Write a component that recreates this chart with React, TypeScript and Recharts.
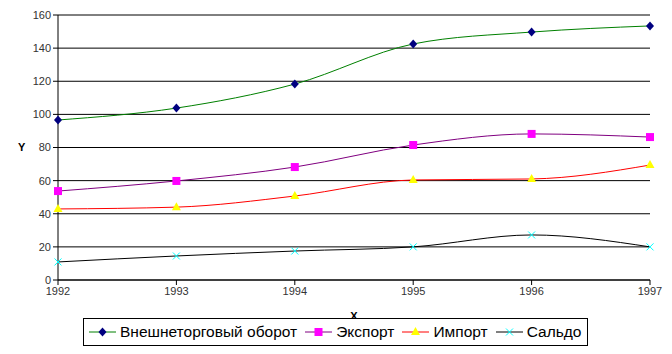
import React from "react";
import { CartesianGrid, Label, Line, LineChart, XAxis, YAxis } from "recharts";

const years = ["1992", "1993", "1994", "1995", "1996", "1997"];
const turnover = [96.6, 103.8, 118.3, 142.5, 149.7, 153.4];
const exports = [53.7, 59.8, 68.2, 81.5, 88.2, 86.3];
const imports = [42.9, 44.0, 50.7, 60.4, 61.0, 69.4];
const balance = [10.9, 14.5, 17.5, 20.0, 27.2, 20.0];
const yTicks = [0, 20, 40, 60, 80, 100, 120, 140, 160];

const data = years.map((year, i) => ({
  year,
  turnover: turnover[i],
  exports: exports[i],
  imports: imports[i],
  balance: balance[i]
}));

const font = "'Liberation Sans', Arial, sans-serif";

type Shape = "diamond" | "square" | "triangle" | "cross";

function Marker({ shape, x, y }: { shape: Shape; x: number; y: number }) {
  if (shape === "diamond")
    return <polygon points={`${x},${y - 4.5} ${x + 4},${y} ${x},${y + 4.5} ${x - 4},${y}`} fill="#000080" />;
  if (shape === "square") return <rect x={x - 4} y={y - 4} width={8} height={8} fill="#FF00FF" />;
  if (shape === "triangle")
    return <polygon points={`${x},${y - 5} ${x + 4.5},${y + 3} ${x - 4.5},${y + 3}`} fill="#FFFF00" />;
  return (
    <g stroke="#00FFFF" strokeWidth={1}>
      <line x1={x - 3.5} y1={y - 3.5} x2={x + 3.5} y2={y + 3.5} />
      <line x1={x - 3.5} y1={y + 3.5} x2={x + 3.5} y2={y - 3.5} />
    </g>
  );
}

const series = [
  { key: "turnover", name: "Внешнеторговый оборот", color: "#008000", shape: "diamond" as Shape },
  { key: "exports", name: "Экспорт", color: "#800080", shape: "square" as Shape },
  { key: "imports", name: "Импорт", color: "#FF0000", shape: "triangle" as Shape },
  { key: "balance", name: "Сальдо", color: "#000000", shape: "cross" as Shape }
];

function LegendBox() {
  return (
    <div
      style={{
        position: "absolute",
        left: 83,
        top: 318,
        width: 505,
        height: 28,
        border: "1px solid #000",
        background: "#fff",
        display: "flex",
        alignItems: "center",
        paddingLeft: 5,
        fontFamily: font,
        fontSize: 15.5,
        color: "#000",
        boxSizing: "border-box",
        whiteSpace: "nowrap"
      }}
    >
      {series.map((s) => (
        <div key={s.key} style={{ display: "flex", alignItems: "center", marginRight: 8 }}>
          <svg width={27} height={12} style={{ marginRight: 4 }}>
            <line x1={0} y1={6} x2={27} y2={6} stroke={s.color} strokeWidth={1} />
            <Marker shape={s.shape} x={13.5} y={6} />
          </svg>
          <span>{s.name}</span>
        </div>
      ))}
    </div>
  );
}

export default function App() {
  return (
    <div style={{ position: "absolute", left: 0, top: 0, width: 672, height: 354, background: "#fff" }}>
      <LineChart width={672} height={354} data={data} margin={{ top: 15, right: 22, left: 0, bottom: 54 }}>
        <CartesianGrid vertical={false} stroke="#000" strokeOpacity={1} />
        <XAxis
          dataKey="year"
          height={20}
          stroke="#000"
          tickSize={5}
          tick={{ fill: "#333", fontSize: 11, fontFamily: font }}
          interval={0}
        >
          <Label value="X" position="bottom" offset={12} style={{ fontFamily: font, fontSize: 11, fontWeight: "bold", fill: "#000" }} />
        </XAxis>
        <YAxis
          width={58}
          domain={[0, 160]}
          ticks={yTicks}
          stroke="#000"
          tickSize={5}
          tick={{ fill: "#333", fontSize: 11, fontFamily: font }}
        >
          <Label value="Y" position="insideLeft" offset={18} style={{ fontFamily: font, fontSize: 11, fontWeight: "bold", fill: "#000" }} />
        </YAxis>
        {series.map((s) => (
          <Line
            key={s.key}
            type="monotone"
            dataKey={s.key}
            name={s.name}
            stroke={s.color}
            strokeWidth={1}
            isAnimationActive={false}
            dot={(p: any) => <Marker key={`${s.key}-${p.index}`} shape={s.shape} x={p.cx} y={p.cy} />}
            activeDot={false}
          />
        ))}
      </LineChart>
      <LegendBox />
    </div>
  );
}
